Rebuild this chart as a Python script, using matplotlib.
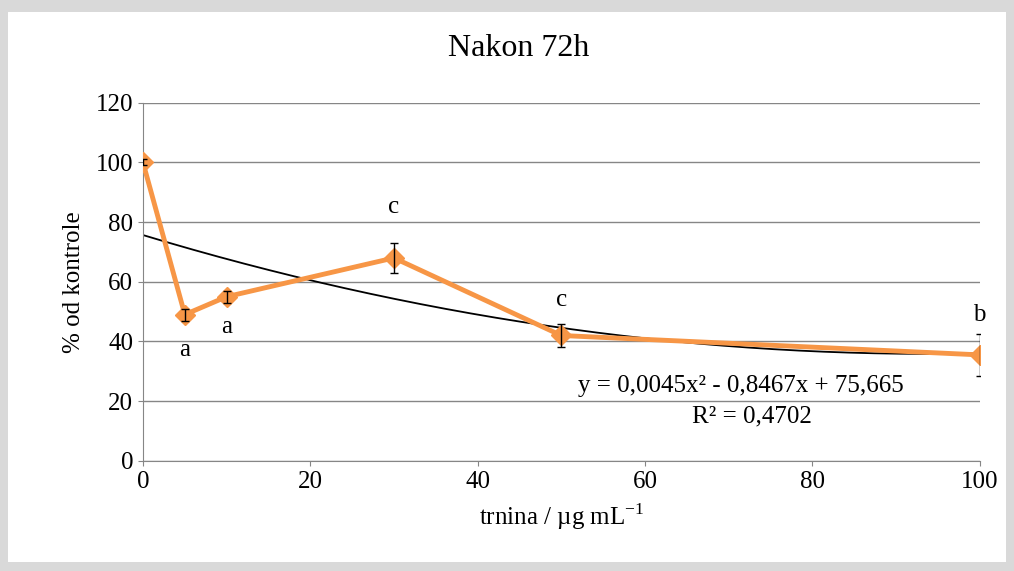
import numpy as np
import matplotlib.pyplot as plt

plt.rcParams['font.family'] = ['Liberation Serif', 'DejaVu Serif']

# podaci
doza = [0, 5, 10, 30, 50, 100]
postotak = [100, 49, 55, 68, 42, 35.5]
greska = [1, 2, 2, 5, 4, 7]
slova = ['', 'a', 'a', 'c', 'c', 'b']
slova_y = [None, 37, 45, 85, 54, 49]
koef = [0.0045, -0.8467, 75.665]

fig = plt.figure(figsize=(10.14, 5.71), dpi=100)
fig.patch.set_facecolor('#d9d9d9')
# bijela ploča ispod grafa
bg = fig.add_axes([8 / 1014, 1 - 562 / 571, 998 / 1014, 550 / 571], zorder=0)
bg.axis('off')
bg.add_patch(plt.Rectangle((0, 0), 1, 1, color='white'))
ax = fig.add_axes([0.141, 0.193, 0.825, 0.627], zorder=1)

xs = np.linspace(0, 100, 200)
ax.plot(xs, np.polyval(koef, xs), color='black', lw=1.3, zorder=2)
ax.plot(doza, postotak, color='#f79646', lw=3.5, marker='D', markersize=10, zorder=3)
ax.errorbar(doza, postotak, yerr=greska, fmt='none', ecolor='black',
            elinewidth=1, capsize=3, zorder=4)

fs = 18
for x, y, s in zip(doza, slova_y, slova):
    if s:
        ax.text(x, y, s, ha='center', va='center', fontsize=fs)

ax.text(91, 25, 'y = 0,0045x² - 0,8467x + 75,665', ha='right', va='center', fontsize=fs)
ax.text(80, 15, 'R² = 0,4702', ha='right', va='center', fontsize=fs)

ax.set_xlim(0, 100)
ax.set_ylim(0, 120)
ax.set_xticks(range(0, 101, 20))
ax.set_yticks(range(0, 121, 20))
ax.grid(axis='y', color='#868686', lw=1)
ax.set_axisbelow(True)
for s in ['top', 'right']:
    ax.spines[s].set_visible(False)
ax.spines['left'].set_color('#868686')
ax.spines['bottom'].set_color('#868686')
ax.tick_params(labelsize=fs, color='#868686')
fig.text(519 / 1014, 1 - 48 / 571, 'Nakon 72h', ha='center', va='center', fontsize=23)
ax.set_xlabel('trnina / µg mL$^{\\mathregular{-1}}$', fontsize=fs, labelpad=6)
ax.set_ylabel('% od kontrole', fontsize=fs, labelpad=8)

fig.savefig('out.png', dpi=100, facecolor=fig.get_facecolor())
